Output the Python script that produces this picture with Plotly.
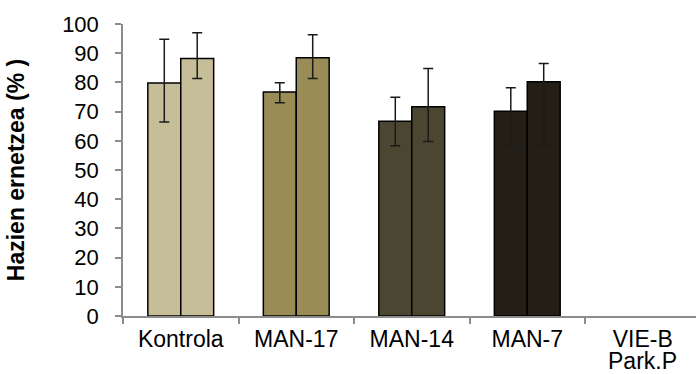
import plotly.graph_objects as go

categories = ["Kontrola", "MAN-17", "MAN-14", "MAN-7", "VIE-B Park.P"]
tick_labels = ["Kontrola", "MAN-17", "MAN-14", "MAN-7", "VIE-B"]
extra_label = "Park.P"
series1 = [79.8, 76.7, 66.7, 70.1, None]
series1_plus = [15.0, 3.2, 8.2, 8.1, None]
series1_minus = [13.4, 3.7, 8.4, 11.8, None]
series2 = [88.2, 88.4, 71.7, 80.2, None]
series2_plus = [8.8, 7.9, 13.1, 6.3, None]
series2_minus = [6.9, 7.1, 11.9, 21.9, None]
bar_colors = ["#c6bd99", "#998c56", "#4b4631", "#231f17", "#231f17"]

FONT = "Liberation Sans, Arial, Helvetica, sans-serif"

fig = go.Figure()
for vals, plus, minus in [(series1, series1_plus, series1_minus),
                          (series2, series2_plus, series2_minus)]:
    fig.add_trace(go.Bar(
        x=categories, y=vals,
        marker=dict(color=bar_colors, line=dict(color="#000000", width=1.5)),
        error_y=dict(type="data", symmetric=False, array=plus, arrayminus=minus,
                     color="#1a1a1a", thickness=1.5, width=5),
        showlegend=False,
    ))

fig.add_annotation(
    x=categories[4], y=0, xref="x", yref="paper", yshift=-31,
    text=extra_label, showarrow=False, yanchor="top", borderpad=0,
    font=dict(size=23, color="#000000"),
)

fig.update_layout(
    width=696, height=374,
    margin=dict(l=123, r=0, t=24, b=58),
    paper_bgcolor="white", plot_bgcolor="white",
    barmode="group", bargap=0.43, bargroupgap=0,
    font=dict(family=FONT, size=22, color="#000000"),
)
fig.update_xaxes(
    type="category", range=[-0.5, 4.461], automargin=False,
    tickmode="array", tickvals=categories, ticktext=tick_labels,
    showline=True, linecolor="#8c8c8c", linewidth=1.5,
    ticks="outside", ticklen=6, tickcolor="#8c8c8c", tickwidth=1.5,
    tickson="boundaries", showgrid=False, ticklabelstandoff=2,
    tickfont=dict(size=23),
)
fig.update_yaxes(
    range=[0, 100], dtick=10, tick0=0, automargin=False,
    showline=True, linecolor="#8c8c8c", linewidth=1.5,
    ticks="outside", ticklen=6, tickcolor="#8c8c8c", tickwidth=1.5,
    showgrid=False, zeroline=False,
    ticklabelstandoff=12,
    tickfont=dict(size=22),
    title=dict(text="<b>Hazien ernetzea (% )</b>", font=dict(size=23), standoff=31),
)

fig.write_html(
    "out.html",
    config={"displayModeBar": False},
    post_script="document.body.style.margin='0';document.body.style.overflow='hidden';",
)
